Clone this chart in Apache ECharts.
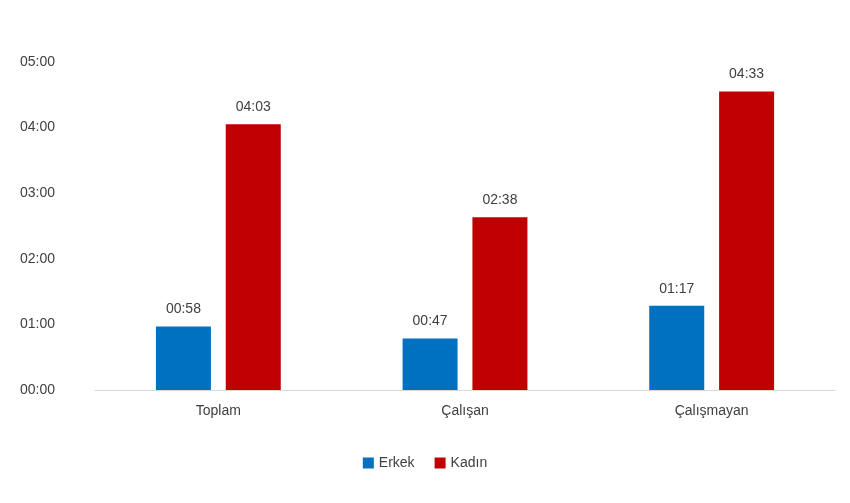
<!DOCTYPE html>
<html><head><meta charset="utf-8">
<script src="https://cdn.jsdelivr.net/npm/echarts@6/dist/echarts.min.js"></script>
<style>html,body{margin:0;padding:0;background:#fff}#c{width:850px;height:503px}</style>
</head><body><div id="c"></div>
<script>
const categories = ['Toplam', 'Çalışan', 'Çalışmayan'];
const erkek = [58, 47, 77];   // minutes
const kadin = [243, 158, 273];
const fmt = v => { const h = Math.floor(v / 60), m = Math.round(v % 60); return String(h).padStart(2,'0') + ':' + String(m).padStart(2,'0'); };
const font = 'Liberation Sans, Arial, sans-serif';
const chart = echarts.init(document.getElementById('c'));
chart.setOption({
  animation: false,
  textStyle: { fontFamily: font },
  grid: { left: 95, right: 15, top: 62, bottom: 113 },
  legend: { bottom: 28, itemWidth: 11, itemHeight: 11, itemGap: 20, icon: 'rect',
    textStyle: { fontSize: 14, color: '#404040', fontFamily: font } },
  xAxis: { type: 'category', data: categories,
    axisLine: { lineStyle: { color: '#d9d9d9' } }, axisTick: { show: false },
    axisLabel: { fontSize: 14, color: '#404040', margin: 14, fontFamily: font } },
  yAxis: { type: 'value', min: 0, max: 300, interval: 60,
    splitLine: { show: false },
    axisLabel: { formatter: fmt, fontSize: 14, color: '#404040', margin: 40, fontFamily: font } },
  series: [
    { name: 'Erkek', type: 'bar', data: erkek, barWidth: 55, barGap: '27%',
      itemStyle: { color: '#0070C0' },
      label: { show: true, position: 'top', distance: 10, formatter: p => fmt(p.value), fontSize: 14, color: '#404040' } },
    { name: 'Kadın', type: 'bar', data: kadin, barWidth: 55,
      itemStyle: { color: '#C00000' },
      label: { show: true, position: 'top', distance: 10, formatter: p => fmt(p.value), fontSize: 14, color: '#404040' } }
  ]
});
</script></body></html>
